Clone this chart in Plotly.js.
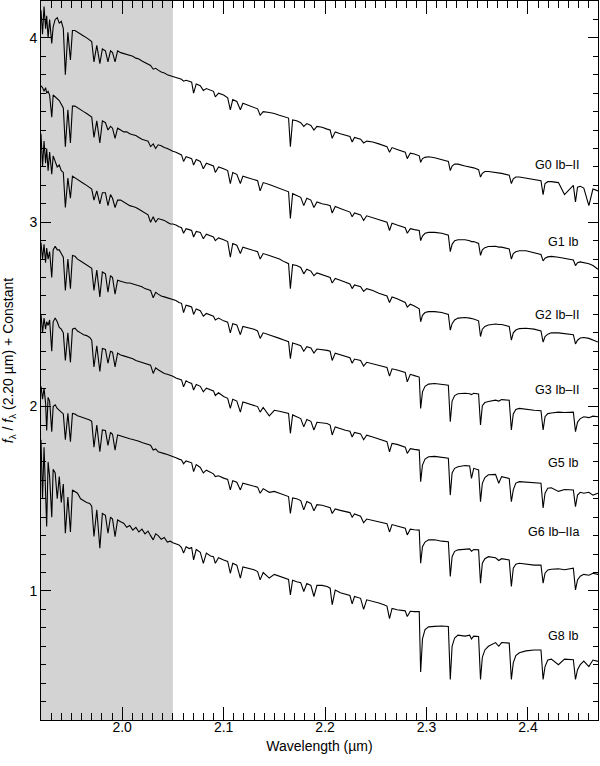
<!DOCTYPE html>
<html>
<head>
<meta charset="utf-8">
<script src="https://cdn.plot.ly/plotly-3.0.1.min.js"></script>
<style>html,body{margin:0;padding:0;background:#fff}#chart{width:600px;height:766px}</style>
</head>
<body>
<div id="chart"></div>
<script>
// Wavelength grid (µm): shaded region, mid region, CO band region
const wlA = [
1.9200,1.9215,1.9230,1.9245,1.9256,1.9270,
1.9285,1.9306,1.9320,1.9340,1.9360,1.9380,
1.9400,1.9420,1.9440,1.9465,1.9490,1.9510,
1.9535,1.9560,1.9590,1.9620,1.9650,1.9680,
1.9700,1.9722,1.9750,1.9780,1.9805,1.9835,
1.9860,1.9885,1.9905,1.9930,1.9955,1.9985,
2.0015,2.0045,2.0075,2.0105,2.0135,2.0165,
2.0195,2.0225,2.0255,2.0280,2.0306,2.0330,
2.0355,2.0385,2.0415,2.0445,2.0475,2.0500];
const wlB = [
2.0530,2.0560,2.0585,2.0605,2.0630,2.0660,
2.0685,2.0704,2.0730,2.0770,2.0800,2.0830,
2.0870,2.0900,2.0918,2.0950,2.1000,2.1040,
2.1066,2.1090,2.1130,2.1165,2.1190,2.1240,
2.1300,2.1335,2.1360,2.1390,2.1450,2.1500,
2.1550,2.1600,2.1640,2.1658,2.1680,2.1720,
2.1760,2.1790,2.1820,2.1860,2.1890,2.1920,
2.1970,2.2020,2.2050,2.2070,2.2100,2.2150,
2.2200,2.2245,2.2267,2.2290,2.2350,2.2380,
2.2410,2.2470,2.2530,2.2580,2.2610,2.2635,
2.2660,2.2710,2.2760,2.2790,2.2810,2.2840,
2.2880,2.2910,2.2928];
const wlC = [
2.2942,2.2960,2.2985,2.3020,2.3080,2.3150,
2.3215,2.3234,2.3252,2.3277,2.3310,2.3380,
2.3425,2.3443,2.3465,2.3513,2.3532,2.3550,
2.3575,2.3610,2.3680,2.3712,2.3740,2.3815,
2.3836,2.3855,2.3880,2.3915,2.3980,2.4060,
2.4128,2.4149,2.4168,2.4195,2.4230,2.4300,
2.4360,2.4447,2.4468,2.4488,2.4515,2.4550,
2.4600,2.4640,2.4690];
const wavelength = wlA.concat(wlB, wlC);

const g0 = [
4.15,4.02,4.17,4.05,4.12,4.00,
4.10,3.97,4.06,4.10,4.11,4.08,
4.09,4.05,3.80,4.03,3.88,4.04,
4.04,4.03,4.02,4.01,4.00,3.99,
3.98,3.87,3.96,3.86,3.94,3.93,
3.87,3.93,3.92,3.87,3.93,3.92,
3.915,3.91,3.905,3.90,3.89,3.885,
3.875,3.865,3.855,3.85,3.83,3.835,
3.825,3.815,3.81,3.80,3.795,3.79,
3.785,3.78,3.775,3.765,3.77,3.765,
3.76,3.70,3.75,3.74,3.715,3.725,
3.715,3.71,3.68,3.70,3.69,3.675,
3.61,3.665,3.655,3.61,3.645,3.635,
3.62,3.615,3.58,3.60,3.595,3.59,
3.58,3.57,3.565,3.41,3.555,3.55,
3.54,3.52,3.535,3.525,3.50,3.52,
3.515,3.505,3.50,3.455,3.49,3.48,
3.47,3.465,3.435,3.46,3.45,3.43,
3.44,3.435,3.425,3.415,3.41,3.38,
3.405,3.395,3.385,3.38,3.345,3.375,
3.37,3.365,3.36,
3.325,3.345,3.352,3.355,3.35,3.34,
3.33,3.28,3.305,3.315,3.315,3.305,
3.30,3.295,3.295,3.285,3.245,3.265,
3.275,3.275,3.27,3.265,3.265,3.255,
3.21,3.235,3.245,3.245,3.24,3.23,
3.225,3.15,3.21,3.22,3.22,3.215,
3.15,3.20,3.11,3.19,3.195,3.185,
3.09,3.18,3.17];

const g1 = [
3.74,3.73,3.71,3.73,3.70,3.71,
3.69,3.57,3.69,3.68,3.67,3.66,
3.64,3.62,3.41,3.61,3.43,3.63,
3.63,3.62,3.61,3.60,3.59,3.58,
3.57,3.46,3.55,3.43,3.55,3.54,
3.50,3.52,3.51,3.455,3.51,3.50,
3.49,3.49,3.48,3.475,3.47,3.46,
3.45,3.445,3.44,3.41,3.425,3.40,
3.42,3.415,3.405,3.40,3.39,3.385,
3.38,3.37,3.365,3.33,3.355,3.35,
3.345,3.31,3.34,3.33,3.29,3.32,
3.31,3.305,3.27,3.30,3.29,3.28,
3.21,3.27,3.26,3.21,3.25,3.24,
3.23,3.225,3.17,3.215,3.205,3.195,
3.185,3.175,3.165,3.02,3.155,3.145,
3.135,3.09,3.13,3.12,3.08,3.11,
3.10,3.095,3.09,3.05,3.085,3.075,
3.065,3.055,3.03,3.05,3.04,3.01,
3.035,3.025,3.015,3.005,3.00,2.955,
2.995,2.985,2.975,2.97,2.94,2.965,
2.96,2.957,2.955,
2.90,2.925,2.94,2.945,2.945,2.94,
2.93,2.84,2.88,2.90,2.905,2.905,
2.90,2.895,2.895,2.885,2.82,2.85,
2.862,2.868,2.87,2.865,2.865,2.855,
2.80,2.83,2.84,2.845,2.845,2.835,
2.825,2.79,2.805,2.812,2.815,2.81,
2.805,2.795,2.765,2.78,2.785,2.782,
2.775,2.765,2.745];

const g2 = [
3.48,3.30,3.44,3.32,3.40,3.28,
3.38,3.26,3.36,3.33,3.30,3.31,
3.28,3.27,3.08,3.24,3.13,3.25,
3.24,3.23,3.22,3.21,3.20,3.19,
3.18,3.12,3.17,3.10,3.16,3.16,
3.09,3.15,3.13,3.08,3.12,3.12,
3.11,3.10,3.09,3.085,3.08,3.07,
3.06,3.05,3.04,3.00,3.03,3.00,
3.02,3.015,3.01,3.00,2.99,2.99,
2.985,2.975,2.97,2.94,2.965,2.96,
2.955,2.92,2.95,2.945,2.91,2.935,
2.925,2.92,2.90,2.915,2.905,2.895,
2.81,2.885,2.875,2.83,2.865,2.855,
2.845,2.84,2.80,2.83,2.82,2.81,
2.80,2.785,2.775,2.64,2.77,2.765,
2.755,2.72,2.745,2.735,2.71,2.725,
2.715,2.705,2.70,2.67,2.695,2.685,
2.675,2.665,2.64,2.66,2.65,2.625,
2.64,2.63,2.615,2.605,2.60,2.565,
2.595,2.585,2.57,2.565,2.54,2.555,
2.545,2.535,2.53,
2.46,2.495,2.51,2.515,2.515,2.51,
2.50,2.415,2.45,2.47,2.48,2.483,
2.48,2.478,2.475,2.465,2.38,2.42,
2.435,2.443,2.448,2.445,2.445,2.435,
2.36,2.40,2.415,2.423,2.425,2.42,
2.41,2.35,2.38,2.393,2.40,2.40,
2.395,2.39,2.34,2.36,2.372,2.375,
2.37,2.36,2.35];

const g3 = [
2.89,2.80,2.88,2.78,2.86,2.80,
2.84,2.70,2.85,2.87,2.85,2.85,
2.83,2.81,2.63,2.80,2.64,2.82,
2.815,2.80,2.79,2.78,2.77,2.76,
2.75,2.63,2.74,2.595,2.73,2.72,
2.62,2.71,2.70,2.61,2.685,2.68,
2.675,2.67,2.67,2.665,2.66,2.655,
2.65,2.64,2.635,2.63,2.59,2.62,
2.61,2.60,2.595,2.59,2.585,2.58,
2.575,2.565,2.56,2.51,2.55,2.545,
2.54,2.50,2.53,2.52,2.49,2.505,
2.495,2.49,2.47,2.48,2.465,2.458,
2.40,2.45,2.443,2.39,2.435,2.428,
2.42,2.41,2.37,2.40,2.39,2.38,
2.37,2.36,2.352,2.26,2.345,2.338,
2.33,2.30,2.325,2.318,2.29,2.312,
2.31,2.305,2.30,2.25,2.29,2.28,
2.272,2.265,2.235,2.258,2.25,2.22,
2.24,2.232,2.225,2.218,2.212,2.165,
2.205,2.198,2.19,2.185,2.134,2.175,
2.168,2.162,2.16,
1.99,2.08,2.11,2.122,2.125,2.12,
2.116,1.918,2.03,2.06,2.07,2.072,
2.07,2.065,2.072,2.068,1.90,2.005,
2.022,2.028,2.035,2.03,2.038,2.035,
1.873,1.96,1.985,1.99,1.985,1.98,
1.978,1.873,1.945,1.962,1.965,1.97,
1.968,1.97,1.864,1.915,1.935,1.945,
1.94,1.948,1.945];

const g5 = [
2.50,2.40,2.48,2.42,2.46,2.44,
2.47,2.30,2.46,2.48,2.46,2.43,
2.42,2.40,2.25,2.40,2.24,2.42,
2.425,2.41,2.40,2.39,2.385,2.375,
2.36,2.215,2.33,2.19,2.315,2.31,
2.235,2.30,2.295,2.215,2.29,2.28,
2.275,2.27,2.265,2.26,2.25,2.245,
2.24,2.235,2.23,2.225,2.18,2.21,
2.20,2.19,2.18,2.175,2.17,2.165,
2.155,2.15,2.145,2.107,2.14,2.13,
2.125,2.09,2.12,2.11,2.08,2.10,
2.09,2.085,2.06,2.075,2.055,2.045,
1.99,2.04,2.03,1.97,2.025,2.015,
2.005,2.00,1.97,1.995,1.95,1.98,
1.975,1.968,1.963,1.855,1.955,1.945,
1.935,1.89,1.93,1.92,1.873,1.915,
1.912,1.908,1.90,1.846,1.89,1.88,
1.872,1.866,1.835,1.86,1.852,1.82,
1.845,1.835,1.825,1.815,1.81,1.755,
1.80,1.795,1.785,1.78,1.746,1.772,
1.768,1.765,1.764,
1.593,1.683,1.715,1.728,1.73,1.725,
1.72,1.52,1.64,1.665,1.674,1.68,
1.678,1.61,1.665,1.656,1.484,1.584,
1.615,1.63,1.632,1.584,1.62,1.61,
1.484,1.548,1.585,1.593,1.59,1.584,
1.584,1.45,1.53,1.557,1.56,1.54,
1.55,1.548,1.457,1.52,1.535,1.53,
1.535,1.52,1.53];

const g6 = [
2.11,2.04,2.10,2.02,1.87,2.05,
2.03,1.864,2.00,2.01,1.99,1.98,
1.97,1.96,1.82,1.963,1.81,1.963,
1.96,1.95,1.945,1.94,1.935,1.927,
1.92,1.78,1.90,1.755,1.873,1.87,
1.79,1.86,1.85,1.764,1.846,1.84,
1.835,1.83,1.826,1.822,1.818,1.812,
1.805,1.80,1.795,1.79,1.764,1.77,
1.755,1.748,1.745,1.74,1.735,1.728,
1.722,1.715,1.71,1.69,1.705,1.70,
1.695,1.647,1.685,1.67,1.64,1.655,
1.645,1.635,1.62,1.625,1.612,1.605,
1.548,1.598,1.59,1.548,1.585,1.578,
1.57,1.563,1.53,1.555,1.535,1.54,
1.53,1.52,1.512,1.42,1.505,1.50,
1.49,1.44,1.485,1.475,1.435,1.468,
1.465,1.457,1.452,1.42,1.445,1.437,
1.43,1.425,1.40,1.418,1.405,1.37,
1.39,1.382,1.377,1.37,1.365,1.32,
1.36,1.352,1.345,1.34,1.304,1.335,
1.332,1.33,1.33,
1.15,1.24,1.265,1.277,1.278,1.27,
1.267,1.078,1.186,1.215,1.223,1.225,
1.228,1.215,1.225,1.223,1.042,1.15,
1.175,1.186,1.18,1.165,1.175,1.168,
1.024,1.124,1.145,1.15,1.145,1.14,
1.14,1.042,1.096,1.114,1.118,1.12,
1.115,1.124,1.006,1.06,1.08,1.09,
1.085,1.096,1.09];

const g8 = [
1.82,1.50,1.78,1.55,1.35,1.70,
1.62,1.40,1.66,1.64,1.50,1.62,
1.48,1.58,1.313,1.51,1.32,1.548,
1.54,1.53,1.50,1.49,1.48,1.475,
1.46,1.295,1.44,1.232,1.42,1.41,
1.313,1.40,1.39,1.295,1.385,1.375,
1.367,1.345,1.355,1.33,1.345,1.32,
1.335,1.31,1.325,1.30,1.277,1.31,
1.30,1.28,1.29,1.265,1.27,1.262,
1.255,1.25,1.235,1.205,1.24,1.23,
1.235,1.168,1.225,1.21,1.15,1.205,
1.19,1.186,1.15,1.18,1.168,1.16,
1.096,1.15,1.14,1.07,1.13,1.124,
1.115,1.105,1.06,1.10,1.07,1.09,
1.08,1.07,1.062,0.979,1.058,1.05,
1.045,0.997,1.04,1.03,0.97,1.03,
1.03,1.024,1.015,0.925,1.005,0.99,
0.98,0.975,0.93,0.97,0.96,0.90,
0.952,0.945,0.935,0.925,0.918,0.85,
0.905,0.898,0.895,0.892,0.861,0.89,
0.888,0.888,0.888,
0.56,0.74,0.79,0.805,0.808,0.81,
0.807,0.52,0.70,0.745,0.76,0.755,
0.76,0.74,0.755,0.753,0.52,0.64,
0.68,0.70,0.72,0.70,0.72,0.717,
0.52,0.61,0.65,0.665,0.675,0.68,
0.68,0.52,0.59,0.625,0.63,0.60,
0.63,0.627,0.52,0.573,0.60,0.62,
0.59,0.625,0.618];

const spectra = [g0, g1, g2, g3, g5, g6, g8];
const labels = ['G0 Ib–II', 'G1 Ib', 'G2 Ib–II', 'G3 Ib–II', 'G5 Ib', 'G6 Ib–IIa', 'G8 Ib'];
const shadeRange = [1.92, 2.05];

const labelY = [3.308, 2.893, 2.496, 2.09, 1.694, 1.322, 0.753];

const traces = spectra.map((y, i) => ({
  x: wavelength, y: y, type: 'scatter', mode: 'lines',
  line: {color: '#000', width: 1.1}, name: labels[i], hoverinfo: 'skip'
}));

const fam = 'Liberation Sans, Arial, Helvetica, sans-serif';
const tickFont = {family: fam, size: 14, color: '#000'};
const labelFont = {family: fam, size: 12.5, color: '#000'};

const layout = {
  width: 600, height: 766,
  margin: {l: 41, r: 2, t: 1, b: 46},
  paper_bgcolor: '#fff', plot_bgcolor: '#fff',
  showlegend: false,
  font: tickFont,
  xaxis: {
    range: [1.92, 2.469], tick0: 2.0, dtick: 0.1, tickformat: '.1f',
    ticks: 'inside', ticklen: 13, tickwidth: 1, tickcolor: '#000',
    showline: true, linecolor: '#000', linewidth: 1, mirror: 'allticks',
    showgrid: false, zeroline: false, tickfont: tickFont, ticklabelstandoff: -6,
    automargin: true,
    minor: {dtick: 0.01, ticks: 'inside', ticklen: 7, tickwidth: 1, tickcolor: '#000', showgrid: false},
    title: {text: 'Wavelength (µm)', font: tickFont, standoff: 7}
  },
  yaxis: {
    range: [0.30, 4.20], tick0: 0, dtick: 1,
    ticks: 'inside', ticklen: 10, tickwidth: 1, tickcolor: '#000',
    showline: true, linecolor: '#000', linewidth: 1, mirror: 'allticks',
    showgrid: false, zeroline: false, tickfont: tickFont,
    minor: {dtick: 0.1, ticks: 'inside', ticklen: 5, tickwidth: 1, tickcolor: '#000', showgrid: false},
    title: {text: '<i>f</i><sub>λ</sub> / <i>f</i><sub>λ</sub> (2.20 µm) + Constant', font: {family: fam, size: 14, color: '#000'}}
  },
  shapes: [{
    type: 'rect', xref: 'x', yref: 'paper', x0: shadeRange[0], x1: shadeRange[1], y0: 0, y1: 1,
    fillcolor: '#d3d3d3', line: {width: 0}, layer: 'below'
  }],
  annotations: labels.map((t, i) => ({
    x: 2.452, y: labelY[i], xref: 'x', yref: 'y', text: t, showarrow: false,
    xanchor: 'right', yanchor: 'middle', font: labelFont
  }))
};

Plotly.newPlot('chart', traces, layout, {staticPlot: true, displayModeBar: false});
</script>
</body>
</html>
